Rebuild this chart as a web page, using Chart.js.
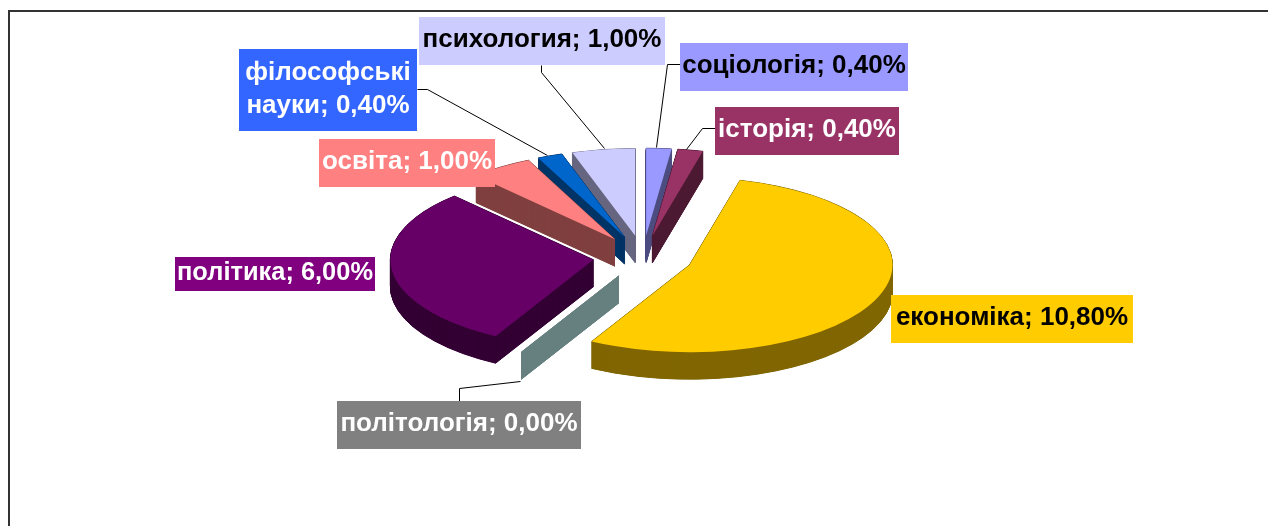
<!DOCTYPE html>
<html>
<head>
<meta charset="utf-8">
<style>
html,body{margin:0;padding:0;background:#fff;overflow:hidden}
#wrap{position:relative;width:1268px;height:526px}
</style>
<script src="https://cdn.jsdelivr.net/npm/chart.js@4/dist/chart.umd.min.js"></script>
</head>
<body>
<div id="wrap"><canvas id="c" width="1268" height="526"></canvas></div>
<script>
const categories = ["соціологія","історія","економіка","політологія","політика","освіта","філософські науки","психология"];
const values = [0.4,0.4,10.8,0,6,1,0.4,1];
const topColors = ["#9999FF","#993366","#FFCC00","#808080","#660066","#FF8080","#0066CC","#CCCCFF"];
const wallColors = ["#4D4D80","#4D1A33","#806600","#668080","#330033","#804040","#003366","#666680"];
const labelFill = ["#9999FF","#993366","#FFCC00","#808080","#800080","#FF8080","#3366FF","#CCCCFF"];
const labelInk = ["#000","#fff","#000","#fff","#fff","#fff","#fff","#000"];
const labelLines = [null,null,null,null,null,null,["філософські","науки"],null];
const labelBoxes = [[680,43,228,48],[715,107,184,48],[891,295,242,48],[337,401,244,48],[175,257,200,34],[319,139,176,48],[239,49,178,82],[419,17,246,48]];
const leaders = [[[680,64],[667,64],[656,147]],[[715,128],[702,128],[686,149]],null,[[459,401],[459,388],[520,381]],null,null,[[417,89],[427,89],[547,155]],[[541,65],[541,72],[604,148]]];

const TILT = 0.43, EXPLODE = 50, DEPTH = 27, RADIUS = 203;

function sliceTransform(ctx, arc, lift){
  const {x,y,startAngle,endAngle} = arc.getProps(['x','y','startAngle','endAngle'], true);
  const mid = (startAngle+endAngle)/2;
  ctx.translate(x, y + lift);
  ctx.scale(1, TILT);
  ctx.translate(Math.cos(mid)*EXPLODE, Math.sin(mid)*EXPLODE);
  ctx.translate(-x,-y);
}
const pie3d = {
  id:'pie3d',
  beforeDatasetDraw(chart,args){
    const ctx = chart.ctx, arcs = args.meta.data;
    const order = arcs.map((a,i)=>i).sort((p,q)=>{
      const mp=(arcs[p].startAngle+arcs[p].endAngle)/2, mq=(arcs[q].startAngle+arcs[q].endAngle)/2;
      return Math.sin(mp)-Math.sin(mq);
    });
    order.forEach(i=>{
      const arc = arcs[i];
      const {x,y,startAngle,endAngle,outerRadius} = arc.getProps(['x','y','startAngle','endAngle','outerRadius'], true);
      ctx.fillStyle = ctx.strokeStyle = wallColors[i];
      ctx.lineWidth = 1;
      for(let d=DEPTH;d>=0;d-=0.5){
        ctx.save();
        sliceTransform(ctx,arc,d);
        ctx.beginPath();
        ctx.moveTo(x,y);
        ctx.arc(x,y,outerRadius,startAngle,endAngle);
        ctx.closePath();
        ctx.fill();
        ctx.restore();
        ctx.stroke();
      }
    });
    order.forEach(i=>{
      ctx.save();
      sliceTransform(ctx,arcs[i],0);
      arcs[i].draw(ctx);
      ctx.restore();
    });
    return false;
  },
  afterDraw(chart){
    const ctx = chart.ctx;
    ctx.save();
    ctx.strokeStyle = '#333';
    ctx.lineWidth = 2;
    ctx.beginPath();
    ctx.moveTo(9,526); ctx.lineTo(9,11); ctx.lineTo(1268,11);
    ctx.stroke();
    ctx.strokeStyle = '#000';
    ctx.lineWidth = 1;
    leaders.forEach(l=>{
      if(!l) return;
      ctx.beginPath();
      l.forEach((p,i)=> i?ctx.lineTo(p[0]+.5,p[1]+.5):ctx.moveTo(p[0]+.5,p[1]+.5));
      ctx.stroke();
    });
    ctx.font = 'bold 26px "Liberation Sans", Arial, sans-serif';
    ctx.textBaseline = 'middle';
    ctx.textAlign = 'center';
    categories.forEach((name,i)=>{
      const [bx,by,bw,bh] = labelBoxes[i];
      ctx.fillStyle = labelFill[i];
      ctx.fillRect(bx,by,bw,bh);
      ctx.fillStyle = labelInk[i];
      const val = values[i].toFixed(2).replace('.',',')+'%';
      const lines = labelLines[i] ? [labelLines[i][0], labelLines[i][1]+'; '+val] : [name+'; '+val];
      const cx = bx+bw/2, cy = by+bh/2, lh = 33;
      lines.forEach((t,k)=>{
        ctx.fillText(t, cx, cy + (k-(lines.length-1)/2)*lh - 1, bw-4);
      });
    });
    ctx.restore();
  }
};
new Chart(document.getElementById('c'),{
  type:'pie',
  data:{labels:categories,datasets:[{data:values,backgroundColor:topColors,borderWidth:0,clip:false}]},
  options:{
    responsive:false,animation:false,radius:RADIUS,rotation:0,
    layout:{padding:{left:18,right:0,top:0,bottom:12}},
    plugins:{legend:{display:false},tooltip:{enabled:false},title:{display:false}}
  },
  plugins:[pie3d]
});
</script>
</body>
</html>
